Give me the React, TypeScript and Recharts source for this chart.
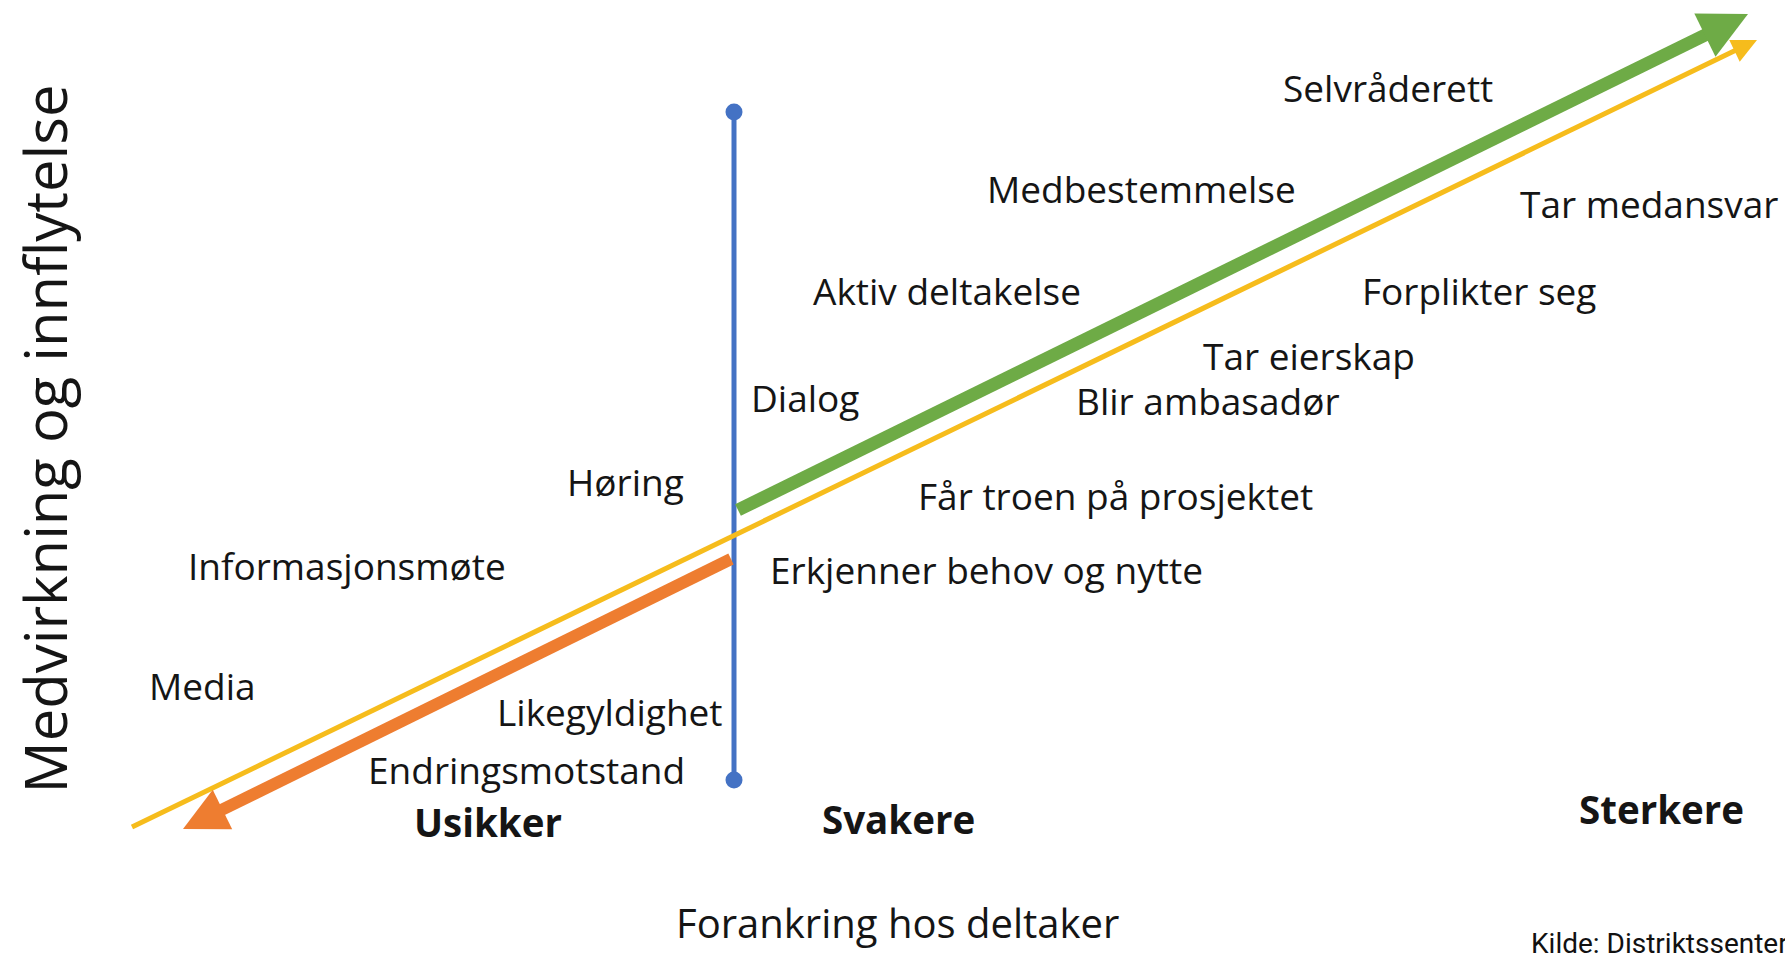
import React from "react";
import { ComposedChart, Line, Scatter, XAxis, YAxis } from "recharts";

const W = 1785;
const H = 955;

// Diagram coordinates (x: forankring, y: medvirkning – drawn top-down)
const yellowArrow = [{ x: 132, y: 827 }, { x: 1757, y: 40 }];
const greenArrow = [{ x: 738, y: 510 }, { x: 1748, y: 14 }];
const orangeArrow = [{ x: 731, y: 559 }, { x: 183, y: 829 }];
const blueAxis = [{ x: 734, y: 112 }, { x: 734, y: 780 }];

const stageLabels = [
  { x: 1283, y: 102, label: "Selvråderett" },
  { x: 987, y: 203, label: "Medbestemmelse" },
  { x: 1520, y: 218, label: "Tar medansvar" },
  { x: 813, y: 305, label: "Aktiv deltakelse" },
  { x: 1362, y: 305, label: "Forplikter seg" },
  { x: 1203, y: 370, label: "Tar eierskap" },
  { x: 751, y: 412, label: "Dialog" },
  { x: 1076, y: 415, label: "Blir ambasadør" },
  { x: 567, y: 496, label: "Høring" },
  { x: 918, y: 510, label: "Får troen på prosjektet" },
  { x: 188, y: 580, label: "Informasjonsmøte" },
  { x: 770, y: 584, label: "Erkjenner behov og nytte" },
  { x: 149, y: 700, label: "Media" },
  { x: 497, y: 726, label: "Likegyldighet" },
  { x: 368, y: 784, label: "Endringsmotstand" },
];

const levelLabels = [
  { x: 414, y: 837, label: "Usikker" },
  { x: 822, y: 834, label: "Svakere" },
  { x: 1579, y: 824, label: "Sterkere" },
];

const xTitle = [{ x: 676, y: 938, label: "Forankring hos deltaker" }];
const yTitle = [{ x: 67, y: 439, label: "Medvirkning og innflytelse" }];
const sourceNote = [{ x: 1531, y: 953, label: "Kilde: Distriktssenteret" }];

const FONT = "'Open Sans', 'Noto Sans', sans-serif";

function shaft(arrow: { x: number; y: number }[], headLen: number) {
  const [a, b] = arrow;
  const dx = b.x - a.x;
  const dy = b.y - a.y;
  const len = Math.sqrt(dx * dx + dy * dy);
  return [a, { x: b.x - (dx / len) * headLen, y: b.y - (dy / len) * headLen }];
}

function headShape(arrow: { x: number; y: number }[], len: number, half: number, color: string) {
  const [a, b] = arrow;
  const dx = b.x - a.x;
  const dy = b.y - a.y;
  const l = Math.sqrt(dx * dx + dy * dy);
  const ux = dx / l;
  const uy = dy / l;
  return (props: any) => {
    const { cx, cy } = props;
    if (cx == null || cy == null) return <g />;
    const bx = cx - ux * len;
    const by = cy - uy * len;
    const px = -uy;
    const py = ux;
    const pts = `${cx},${cy} ${bx + px * half},${by + py * half} ${bx - px * half},${by - py * half}`;
    return <polygon points={pts} fill={color} stroke="none" />;
  };
}

function textShape(style: any, rotate = false) {
  return (props: any) => {
    const { cx, cy, payload } = props;
    if (cx == null || cy == null) return <g />;
    return (
      <text
        x={cx}
        y={cy}
        {...style}
        transform={rotate ? `rotate(-90, ${cx}, ${cy})` : undefined}
      >
        {payload.label}
      </text>
    );
  };
}

const YELLOW = "#F6BC1C";
const GREEN = "#6EAB46";
const ORANGE = "#EE7D30";
const BLUE = "#4472C4";

export default function App() {
  return (
    <div style={{ position: "absolute", left: 0, top: 0, width: W, height: H, background: "#fff", overflow: "hidden" }}>
      <ComposedChart width={W} height={H} margin={{ top: 0, right: 0, bottom: 0, left: 0 }}>
        <XAxis type="number" dataKey="x" domain={[0, W]} hide allowDataOverflow />
        <YAxis type="number" dataKey="y" domain={[0, H]} reversed hide allowDataOverflow />

        <Line
          data={blueAxis}
          dataKey="y"
          type="linear"
          stroke={BLUE}
          strokeWidth={5}
          dot={{ r: 8.5, fill: BLUE, stroke: BLUE, strokeWidth: 0 }}
          isAnimationActive={false}
        />
        <Line
          data={shaft(yellowArrow, 18)}
          dataKey="y"
          type="linear"
          stroke={YELLOW}
          strokeWidth={5}
          dot={false}
          isAnimationActive={false}
        />
        <Line
          data={shaft(greenArrow, 42)}
          dataKey="y"
          type="linear"
          stroke={GREEN}
          strokeWidth={13}
          dot={false}
          isAnimationActive={false}
        />
        <Line
          data={shaft(orangeArrow, 38)}
          dataKey="y"
          type="linear"
          stroke={ORANGE}
          strokeWidth={12}
          dot={false}
          isAnimationActive={false}
        />
        <Scatter data={[yellowArrow[1]]} shape={headShape(yellowArrow, 25, 12, YELLOW)} isAnimationActive={false} />
        <Scatter data={[greenArrow[1]]} shape={headShape(greenArrow, 48, 24, GREEN)} isAnimationActive={false} />
        <Scatter data={[orangeArrow[1]]} shape={headShape(orangeArrow, 44, 22, ORANGE)} isAnimationActive={false} />

        <Scatter
          data={stageLabels}
          shape={textShape({ fontFamily: FONT, fontSize: 37, fill: "#151515" })}
          isAnimationActive={false}
        />
        <Scatter
          data={levelLabels}
          shape={textShape({ fontFamily: FONT, fontSize: 38.5, fontWeight: 700, fill: "#151515" })}
          isAnimationActive={false}
        />
        <Scatter
          data={xTitle}
          shape={textShape({ fontFamily: FONT, fontSize: 40, fill: "#151515" })}
          isAnimationActive={false}
        />
        <Scatter
          data={yTitle}
          shape={textShape({ fontFamily: FONT, fontSize: 58, fill: "#151515", textAnchor: "middle" }, true)}
          isAnimationActive={false}
        />
        <Scatter
          data={sourceNote}
          shape={textShape({ fontFamily: "Roboto, sans-serif", fontSize: 28, fill: "#111" })}
          isAnimationActive={false}
        />
      </ComposedChart>
    </div>
  );
}
